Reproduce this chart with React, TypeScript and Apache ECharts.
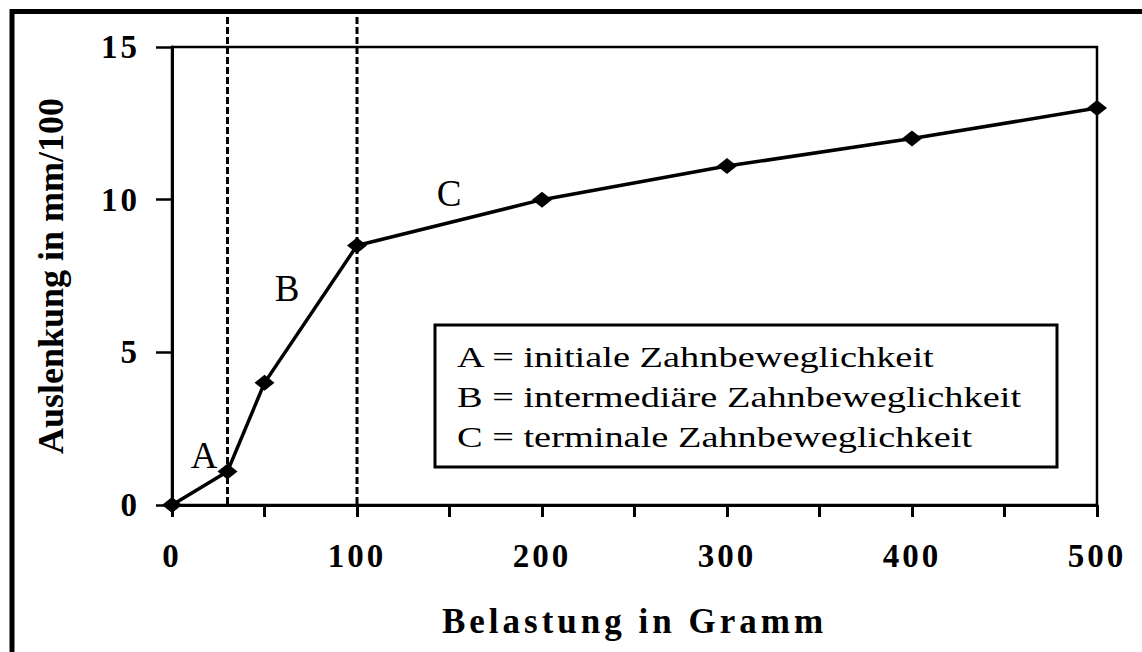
import React, { useEffect, useRef } from "react";
import * as echarts from "echarts";

const loads = [0, 30, 50, 100, 200, 300, 400, 500];
const deflection = [0, 1.1, 4, 8.5, 10, 11.1, 12, 13];
const phaseBoundaries = [30, 100];
const xTickLabels = [0, 100, 200, 300, 400, 500];
const phaseLabels = ["A", "B", "C"];
const legendLines = [
  "A = initiale Zahnbeweglichkeit",
  "B = intermediäre Zahnbeweglichkeit",
  "C = terminale Zahnbeweglichkeit",
];
const xTitle = "Belastung in Gramm";
const yTitle = "Auslenkung in mm/100";

const SERIF = '"Liberation Serif", "Times New Roman", serif';

export default function App() {
  const ref = useRef<HTMLDivElement>(null);
  useEffect(() => {
    if (!ref.current) return;
    const chart = echarts.init(ref.current, undefined, { renderer: "svg" });
    chart.setOption({
      animation: false,
      backgroundColor: "#fff",
      grid: {
        left: 172,
        right: 45,
        top: 47,
        bottom: 147,
        show: true,
        borderColor: "#000",
        borderWidth: 2.5,
      },
      xAxis: {
        type: "value",
        min: 0,
        max: 500,
        interval: 50,
        name: xTitle,
        nameLocation: "middle",
        nameGap: 99,
        nameTextStyle: { fontFamily: SERIF, fontWeight: "bold", fontSize: 35, color: "#000" },
        axisLine: { show: true, onZero: false, lineStyle: { color: "#000", width: 3 } },
        axisTick: { show: true, inside: false, length: 12, lineStyle: { color: "#000", width: 3 } },
        splitLine: { show: false },
        axisLabel: {
          margin: 34,
          fontFamily: SERIF,
          fontWeight: "bold",
          fontSize: 33,
          color: "#000",
          formatter: (v: number) => (xTickLabels.includes(v) ? String(v) : ""),
        },
      },
      yAxis: {
        type: "value",
        min: 0,
        max: 15,
        interval: 5,
        name: yTitle,
        nameLocation: "middle",
        nameGap: 103,
        nameTextStyle: { fontFamily: SERIF, fontWeight: "bold", fontSize: 36, color: "#000" },
        axisLine: { show: true, lineStyle: { color: "#000", width: 3 } },
        axisTick: { show: true, inside: false, length: 16, lineStyle: { color: "#000", width: 2.5 } },
        splitLine: { show: false },
        axisLabel: {
          margin: 32,
          fontFamily: SERIF,
          fontWeight: "bold",
          fontSize: 33,
          color: "#000",
        },
      },
      series: [
        {
          type: "line",
          data: loads.map((x, i) => [x, deflection[i]]),
          symbol: "diamond",
          symbolSize: [20, 16],
          showAllSymbol: true,
          itemStyle: { color: "#000" },
          lineStyle: { color: "#000", width: 3.5 },
          z: 5,
        },
      ],
    });

    const top = 17;
    const pBase = (x: number, y: number) => chart.convertToPixel({ gridIndex: 0 }, [x, y]) as number[];
    const dashed = phaseBoundaries.map((b) => {
      const p0 = pBase(b, 0);
      return {
        type: "line",
        z: 1,
        shape: { x1: p0[0], y1: top, x2: p0[0], y2: p0[1] },
        style: { stroke: "#000", lineWidth: 3, lineDash: [7, 3] },
      };
    });

    const labelPos = [
      [204, 455],
      [287, 288],
      [449, 193],
    ];
    const phaseTexts = phaseLabels.map((t, i) => ({
      type: "text",
      x: labelPos[i][0],
      y: labelPos[i][1],
      z: 10,
      style: {
        text: t,
        fontFamily: SERIF,
        fontSize: 37,
        fill: "#000",
        align: "center",
        verticalAlign: "middle",
      },
    }));

    const legendTexts = legendLines.map((t, i) => ({
      type: "text",
      x: 457,
      y: 357 + i * 40,
      scaleX: 1.28,
      z: 10,
      style: {
        text: t,
        fontFamily: SERIF,
        fontSize: 30,
        fill: "#000",
        align: "left",
        verticalAlign: "middle",
      },
    }));

    chart.setOption({
      graphic: [
        {
          type: "rect",
          shape: { x: 12, y: 11.5, width: 2000, height: 2000 },
          style: { fill: "none", stroke: "#000", lineWidth: 5 },
          z: 20,
        },
        ...dashed,
        {
          type: "rect",
          z: 8,
          shape: { x: 435, y: 325, width: 622, height: 142 },
          style: { fill: "#fff", stroke: "#000", lineWidth: 3 },
        },
        ...legendTexts,
        ...phaseTexts,
      ],
    });

    return () => chart.dispose();
  }, []);
  return (
    <>
      <style>{'text[style*="35px"]{letter-spacing:4px}text[style*="33px"]{letter-spacing:3px}'}</style>
      <div
        ref={ref}
        style={{ position: "absolute", left: 0, top: 0, width: 1142, height: 652 }}
      />
    </>
  );
}
